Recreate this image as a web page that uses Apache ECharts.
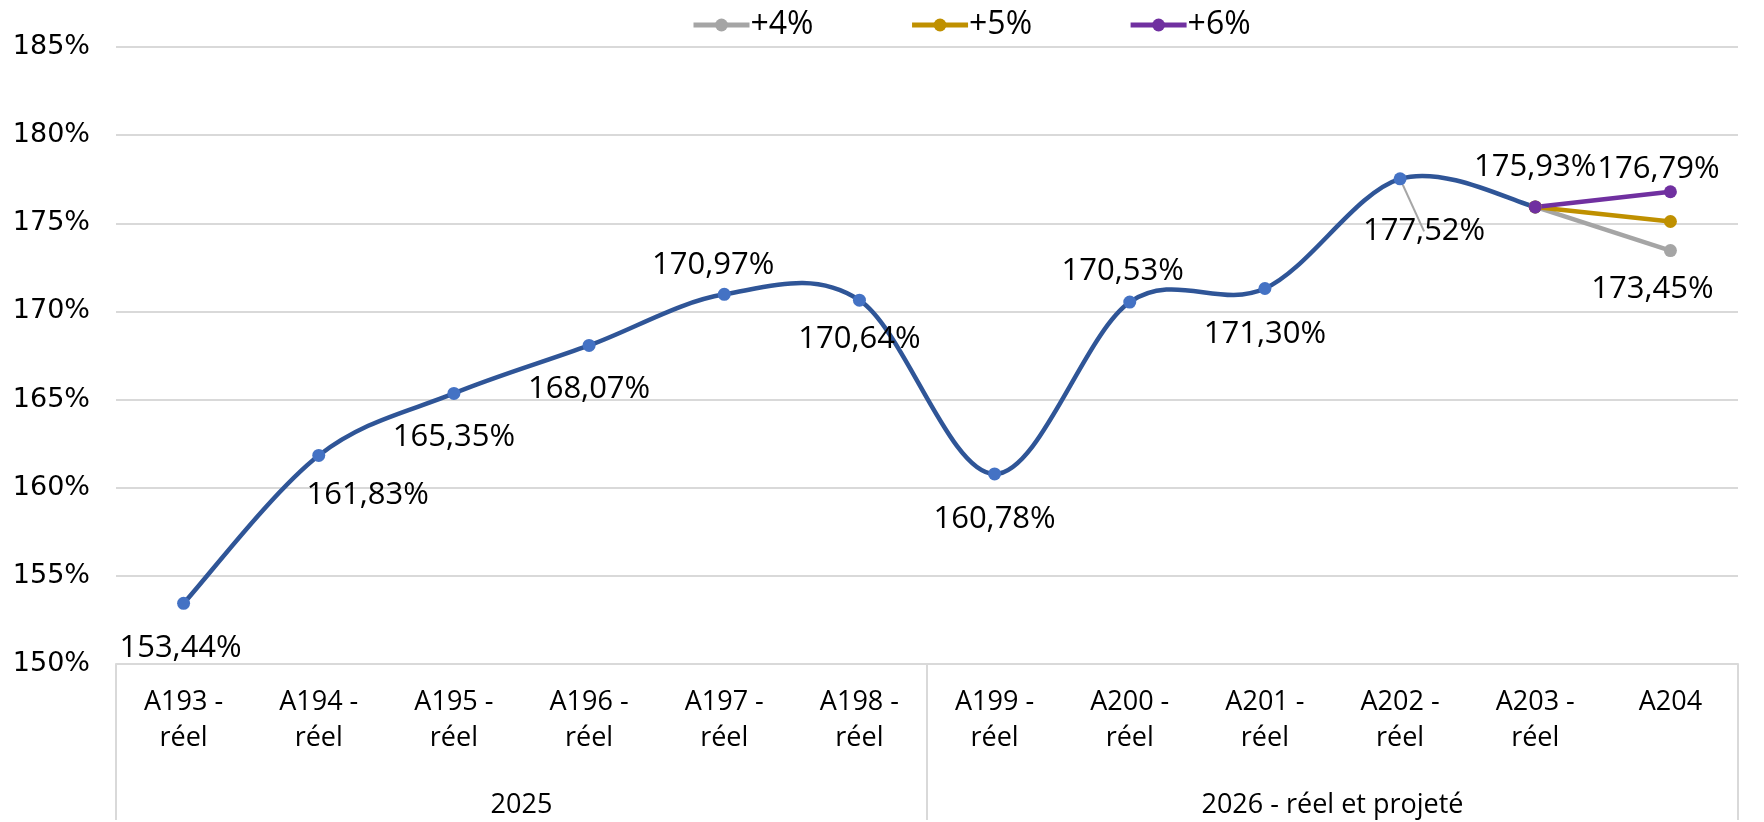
<!DOCTYPE html>
<html>
<head>
<meta charset="utf-8">
<script src="https://cdn.jsdelivr.net/npm/echarts@6/dist/echarts.min.js"></script>
<style>
  html, body { margin: 0; padding: 0; background: #fff; }
  #chart { width: 1764px; height: 822px; }
</style>
</head>
<body>
<div id="chart"></div>
<script>
// categories on the lower axis and the two year groups below them
const periods = ['A193 -\nréel', 'A194 -\nréel', 'A195 -\nréel', 'A196 -\nréel', 'A197 -\nréel', 'A198 -\nréel',
                 'A199 -\nréel', 'A200 -\nréel', 'A201 -\nréel', 'A202 -\nréel', 'A203 -\nréel', 'A204'];
const yearGroups = ['2025', '2026 - réel et projeté'];

// observed ratio (%), A193 .. A203
const actual = [153.44, 161.83, 165.35, 168.07, 170.97, 170.64, 160.78, 170.53, 171.30, 177.52, 175.93, null];

// projections from A203 to A204
const plus4 = [null, null, null, null, null, null, null, null, null, null, 175.93, 173.45];
const plus5 = [null, null, null, null, null, null, null, null, null, null, 175.93, 175.10];
const plus6 = [null, null, null, null, null, null, null, null, null, null, 175.93, 176.79];

// label placement: side, dx, dy (label centre relative to point)
const actualLabelPlace = [
    ['bottom', -3, 44], ['bottom', 49, 39], ['bottom', 0, 43], ['bottom', 0, 43],
    ['top', -11, 29], ['bottom', 0, 39], ['bottom', 0, 45], ['top', -7, 30],
    ['bottom', 0, 45], ['bottom', 24, 52], ['top', 0, 39], null
];

const fmt = v => v.toFixed(2).replace('.', ',') + '%';
const LABEL_FONT = 'Open Sans';
const LABEL_LH = 36;

function placedLabel(place) {
    const [side, dx, dy] = place;
    const d = dy - 6 - LABEL_LH / 2;
    return {
        show: true,
        position: side,
        distance: Math.max(d, 0),
        offset: [dx, d < 0 ? (side === 'top' ? -d : d) : 0]
    };
}

// Excel-like smoothed curve (cardinal spline, overshoots between points)
function smoothPath(pts) {
    let d = 'M' + pts[0][0] + ',' + pts[0][1];
    for (let i = 0; i < pts.length - 1; i++) {
        const p0 = pts[Math.max(i - 1, 0)];
        const p1 = pts[i];
        const p2 = pts[i + 1];
        const p3 = pts[Math.min(i + 2, pts.length - 1)];
        const c1 = [p1[0] + (p2[0] - p0[0]) / 6, p1[1] + (p2[1] - p0[1]) / 6];
        const c2 = [p2[0] - (p3[0] - p1[0]) / 6, p2[1] - (p3[1] - p1[1]) / 6];
        d += ' C' + c1[0] + ',' + c1[1] + ' ' + c2[0] + ',' + c2[1] + ' ' + p2[0] + ',' + p2[1];
    }
    return d;
}

const chart = echarts.init(document.getElementById('chart'));

const actualData = actual.map((v, i) => {
    if (v === null) return null;
    const item = { value: v, label: placedLabel(actualLabelPlace[i]) };
    if (i === 9) {
        item.labelLine = { show: true, lineStyle: { color: '#a6a6a6', width: 2 } };
    }
    return item;
});

function scenario(name, values, color, place) {
    return {
        name: name,
        type: 'line',
        data: values.map((v, i) => {
            if (v === null) return null;
            if (place && i === values.length - 1) return { value: v, label: placedLabel(place) };
            return v;
        }),
        symbol: 'circle',
        symbolSize: 13,
        lineStyle: { color: color, width: 4.5 },
        itemStyle: { color: color },
        label: { show: false, formatter: p => fmt(p.value), fontFamily: LABEL_FONT, fontSize: 31, lineHeight: LABEL_LH, color: '#000' },
        z: 3
    };
}

const option = {
    backgroundColor: '#fff',
    animation: false,
    textStyle: { fontFamily: LABEL_FONT },
    legend: {
        data: ['+4%', '+5%', '+6%'],
        left: 686,
        top: 4,
        itemWidth: 56,
        itemHeight: 16,
        itemGap: 96,
        lineStyle: { width: 5 },
        textStyle: { fontFamily: LABEL_FONT, fontSize: 32, color: '#000', padding: [0, 0, 0, -4] }
    },
    grid: { left: 116, right: 26, top: 47, bottom: 156, containLabel: false },
    xAxis: [
        {
            type: 'category',
            data: periods,
            position: 'bottom',
            boundaryGap: true,
            axisLine: { show: true, lineStyle: { color: '#d9d9d9', width: 2 } },
            axisTick: { show: false },
            axisLabel: { interval: 0, margin: 20, fontFamily: LABEL_FONT, fontSize: 27, lineHeight: 36, color: '#000' }
        },
        {
            type: 'category',
            data: yearGroups,
            position: 'bottom',
            boundaryGap: true,
            axisLine: { show: false },
            axisTick: { show: true, interval: 0, length: 156, lineStyle: { color: '#d9d9d9', width: 2 } },
            axisLabel: { interval: 0, margin: 124, fontFamily: LABEL_FONT, fontSize: 27, lineHeight: 34, color: '#000' }
        }
    ],
    yAxis: {
        type: 'value',
        min: 150,
        max: 185,
        interval: 5,
        axisLine: { show: false },
        axisTick: { show: false },
        splitLine: { lineStyle: { color: '#d9d9d9', width: 2 } },
        axisLabel: { margin: 26, fontFamily: 'DejaVu Sans', fontSize: 27, color: '#000', formatter: v => v + '%' }
    },
    series: [
        {
            name: 'courbe',
            type: 'custom',
            data: [[0, actual[0]]],
            silent: true,
            z: 1,
            renderItem: (params, api) => {
                const pts = [];
                actual.forEach((v, i) => { if (v !== null) pts.push(api.coord([i, v])); });
                return {
                    type: 'path',
                    shape: { pathData: smoothPath(pts) },
                    style: { stroke: '#2f5597', lineWidth: 4.5, fill: 'none' }
                };
            }
        },
        scenario('+4%', plus4, '#a5a5a5', ['bottom', -18, 38]),
        scenario('+5%', plus5, '#bf9000', null),
        scenario('+6%', plus6, '#7030a0', ['top', -12, 22]),
        {
            name: 'Réel',
            type: 'line',
            data: actualData,
            symbol: 'circle',
            symbolSize: 13,
            lineStyle: { width: 0, opacity: 0 },
            itemStyle: { color: '#4472c4' },
            label: { show: true, formatter: p => fmt(p.value), fontFamily: LABEL_FONT, fontSize: 31, lineHeight: LABEL_LH, color: '#000' },
            z: 2
        }
    ]
};

chart.setOption(option);
</script>
</body>
</html>
